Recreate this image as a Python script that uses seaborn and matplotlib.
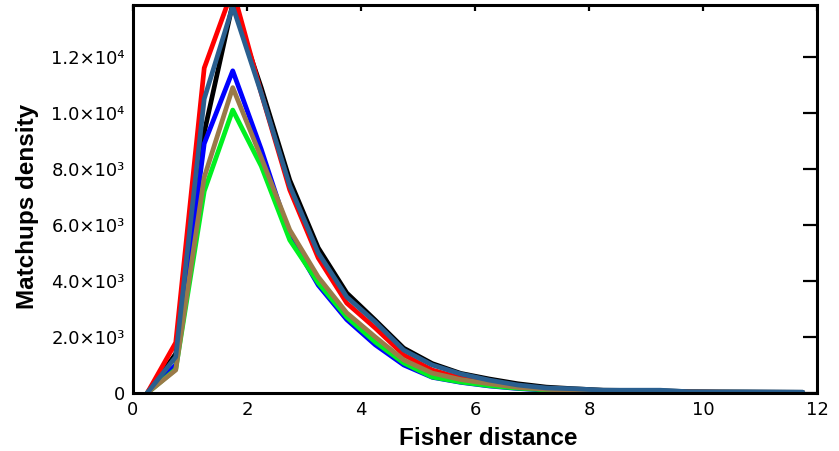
import pandas as pd
import matplotlib
matplotlib.use('Agg')
import matplotlib.pyplot as plt
import seaborn as sns

# values
fisher_dist = [0.25, 0.75, 1.25, 1.75, 2.25, 2.75, 3.25, 3.75, 4.25, 4.75, 5.25, 5.75,
               6.25, 6.75, 7.25, 7.75, 8.25, 8.75, 9.25, 9.75, 10.25, 10.75, 11.25, 11.75]

black_vals = [0, 1400, 9300, 13900, 10900, 7600, 5180, 3570, 2600, 1600, 1050, 700,
              500, 330, 210, 150, 100, 90, 80, 50, 40, 35, 30, 25]
red_vals = [0, 1800, 11600, 14400, 10700, 7250, 4820, 3210, 2320, 1360, 820, 535,
            380, 230, 150, 100, 60, 50, 40, 30, 25, 20, 15, 10]
blue_vals = [0, 1000, 8900, 11500, 8700, 5600, 3850, 2620, 1720, 1000, 560, 380,
             250, 160, 100, 70, 40, 30, 25, 20, 15, 10, 8, 5]
green_vals = [0, 850, 7200, 10100, 8100, 5460, 3930, 2710, 1820, 1070, 570, 390,
              260, 170, 110, 70, 30, 25, 20, 20, 15, 10, 8, 5]
brown_vals = [0, 820, 7700, 10900, 8400, 5820, 4140, 2860, 2000, 1180, 710, 480,
              330, 200, 130, 90, 60, 50, 40, 35, 30, 25, 20, 15]
steel_vals = [0, 1290, 10500, 13800, 10700, 7400, 5000, 3430, 2530, 1530, 1000, 680,
              460, 285, 180, 150, 100, 100, 100, 45, 40, 40, 35, 30]

series_names = ['black', 'red', 'blue', 'green', 'brown', 'steel']
series_colors = ['#000000', '#ff0000', '#0000ff', '#00f020', '#9a7a48', '#2a5f8f']

y_ticks = [0, 2000, 4000, 6000, 8000, 10000, 12000]
y_tick_labels = ['0', '2.0×10³', '4.0×10³', '6.0×10³', '8.0×10³', '1.0×10⁴', '1.2×10⁴']
x_ticks = [0, 2, 4, 6, 8, 10, 12]

# long table for seaborn
frames = []
for name, vals in zip(series_names, [black_vals, red_vals, blue_vals, green_vals, brown_vals, steel_vals]):
    frames.append(pd.DataFrame({'dist': fisher_dist, 'density': vals, 'run': name}))
data = pd.concat(frames, ignore_index=True)

sns.set_style('white')
plt.rcParams['font.family'] = ['DejaVu Sans']

fig = plt.figure(figsize=(8.39, 4.51), dpi=100)
ax = fig.add_axes([0.1585, 0.1286, 0.8153, 0.8604])

sns.lineplot(data=data, x='dist', y='density', hue='run', hue_order=series_names,
             palette=dict(zip(series_names, series_colors)), linewidth=3.4,
             estimator=None, sort=False, legend=False, ax=ax)

ax.set_xlim(0, 12)
ax.set_ylim(0, 13850)
ax.set_xticks(x_ticks)
ax.set_xticklabels([str(t) for t in x_ticks])
ax.set_yticks(y_ticks)
ax.set_yticklabels(y_tick_labels)

ax.tick_params(axis='both', direction='in', top=True, right=True, width=1.6,
               labelsize=13, colors='black', pad=6)
ax.tick_params(axis='y', length=10)
ax.tick_params(axis='x', length=4.5)
for sp in ax.spines.values():
    sp.set_linewidth(2.2)
    sp.set_color('black')

ax.set_xlabel('Fisher distance', fontsize=17.5, fontweight='bold', family='Liberation Sans', color='black')
ax.set_ylabel('Matchups density', fontsize=17.5, fontweight='bold', family='Liberation Sans', color='black')
ax.xaxis.set_label_coords(0.52, -0.088)
ax.yaxis.set_label_coords(-0.137, 0.48)

fig.savefig('out.png', dpi=100)
